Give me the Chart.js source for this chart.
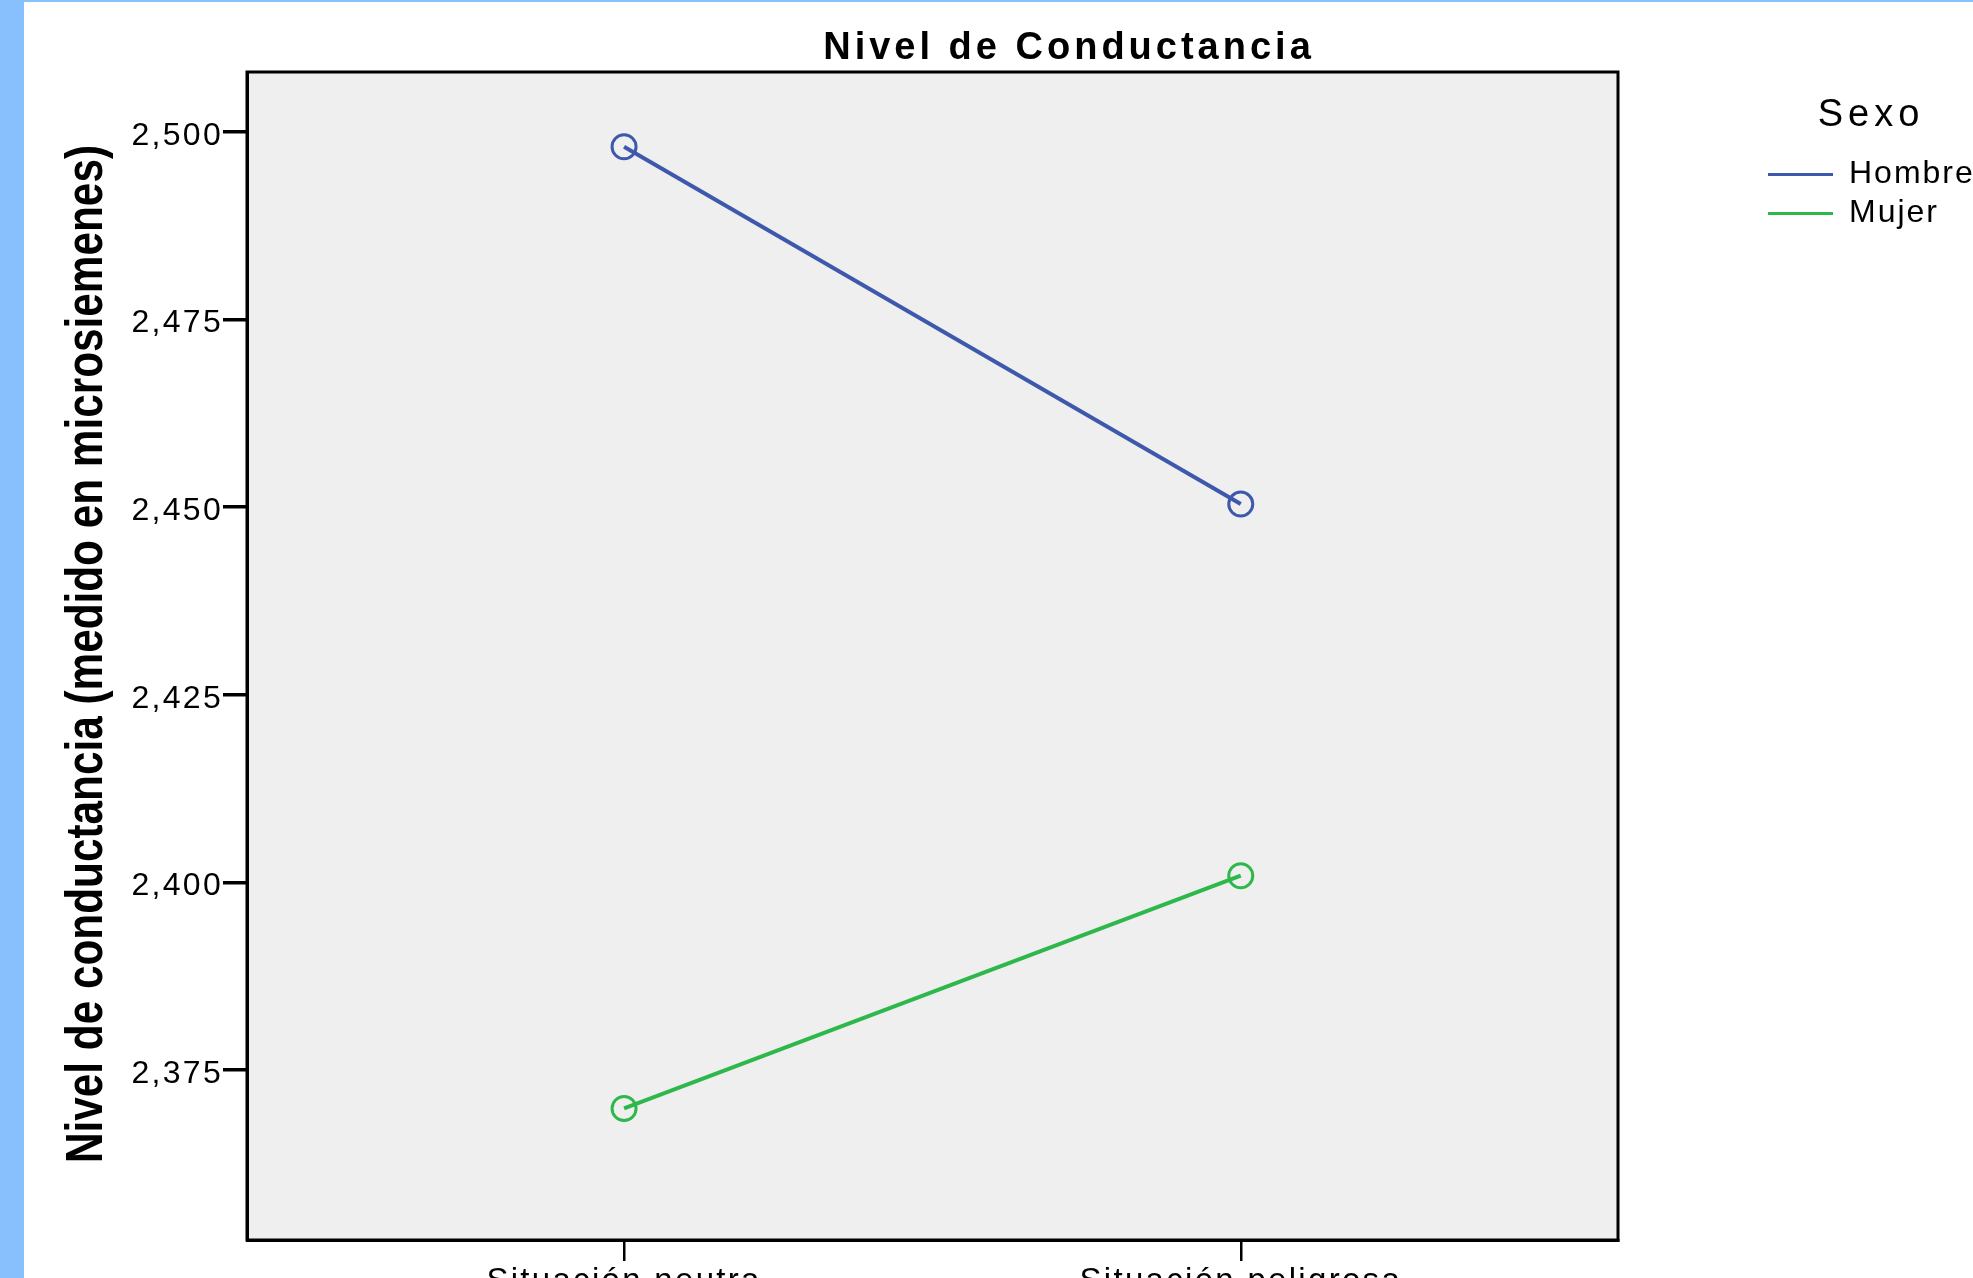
<!DOCTYPE html>
<html><head><meta charset="utf-8">
<script src="https://cdn.jsdelivr.net/npm/chart.js@4.4.1/dist/chart.umd.min.js"></script>
<style>
html,body{margin:0;padding:0;width:1973px;height:1278px;overflow:hidden;background:#fff;position:relative}
#wrap{position:absolute;left:0;top:0;width:2020px;height:1400px}
#bar{position:absolute;left:0;top:0;width:24px;height:1278px;background:#87c0fd}
#topline{position:absolute;left:0;top:0;width:1973px;height:2px;background:#87c0fd}
</style></head><body>
<div id="wrap"><canvas id="c" width="2020" height="1400" style="width:2020px;height:1400px"></canvas></div>
<div id="bar"></div><div id="topline"></div>
<script>
const categories = ['Situación neutra', 'Situación peligrosa'];
const seriesNames = ['Hombre', 'Mujer'];
const hombre = [2.498, 2.4504];
const mujer = [2.3699, 2.4009];
const yTickValues = [2.375, 2.400, 2.425, 2.450, 2.475, 2.500];
const yTickLabels = ['2,375', '2,400', '2,425', '2,450', '2,475', '2,500'];
const xTickValues = [0, 1];
const chartTitle = 'Nivel de Conductancia';
const yTitle = 'Nivel de conductancia (medido en microsiemenes)';
const legendTitle = 'Sexo';

const FONT = '"Liberation Sans", Arial, sans-serif';
const BLUE = '#3e58ac';
const GREEN = '#2eb84b';
const Y_TITLE_FONT = { size: 52, weight: 'bold', family: FONT };
const Y_TITLE_LEN = 1018;

function refreshFont(ctx) {
  const f = ctx.font;
  ctx.font = '10px serif';
  ctx.font = f;
}

function wrap(obj, method, before) {
  const orig = obj[method];
  obj[method] = function (...args) {
    const ctx = this.ctx;
    ctx.save();
    before.call(this, ctx);
    refreshFont(ctx);
    try { return orig.apply(this, args); }
    finally { ctx.restore(); refreshFont(ctx); }
  };
}
const spacing = (ls) => function (ctx) { ctx.letterSpacing = ls; };

const framePlugin = {
  id: 'frame',
  beforeDraw(chart) {
    const { ctx, chartArea: a } = chart;
    ctx.save();
    ctx.fillStyle = '#efefef';
    ctx.fillRect(a.left, a.top, a.right - a.left, a.bottom - a.top);
    ctx.restore();
  },
  afterDatasetsDraw(chart) {
    const { ctx, chartArea: a } = chart;
    ctx.save();
    ctx.strokeStyle = '#000';
    ctx.lineWidth = 3;
    ctx.strokeRect(a.left, a.top, a.right - a.left, a.bottom - a.top);
    ctx.restore();
  },
  afterLayout(chart) {
    const lg = chart.legend;
    lg.left = 1761; lg.width = 220; lg.right = lg.left + lg.width;
    lg.top = 97; lg.height = 300; lg.bottom = lg.top + lg.height;
    const tb = chart.titleBlock;
    const cx = 1069;
    tb.left = cx - 600; tb.right = cx + 600; tb.width = 1200;
    if (!chart.$wrapped) {
      chart.$wrapped = true;
      const ys = chart.scales.y, xs = chart.scales.x;
      wrap(ys, 'drawLabels', function (ctx) { ctx.letterSpacing = '2.3px'; ctx.translate(0, 4); });
      wrap(xs, 'drawLabels', spacing('2.3px'));
      wrap(ys, 'drawTitle', function (ctx) {
        ctx.letterSpacing = '0px';
        const f = Chart.helpers.toFont(Y_TITLE_FONT);
        ctx.font = f.string;
        const w = ctx.measureText(yTitle).width;
        const k = Y_TITLE_LEN / w;
        const cy = (this.top + this.bottom) / 2 - 2;
        ctx.translate(0, cy);
        ctx.scale(1, k);
        ctx.translate(0, -(this.top + this.bottom) / 2);
      });
      wrap(lg, 'draw', spacing('2px'));
      wrap(lg, 'drawTitle', spacing('5px'));
      wrap(tb, 'draw', spacing('4px'));
    }
  }
};

new Chart(document.getElementById('c'), {
  type: 'line',
  data: {
    datasets: [
      { label: seriesNames[0], data: hombre.map((v, i) => ({ x: xTickValues[i], y: v })),
        borderColor: BLUE, borderWidth: 4, pointRadius: 12, pointBorderWidth: 3,
        pointBorderColor: BLUE, pointBackgroundColor: 'rgba(0,0,0,0)', fill: false, tension: 0 },
      { label: seriesNames[1], data: mujer.map((v, i) => ({ x: xTickValues[i], y: v })),
        borderColor: GREEN, borderWidth: 4, pointRadius: 12, pointBorderWidth: 3,
        pointBorderColor: GREEN, pointBackgroundColor: 'rgba(0,0,0,0)', fill: false, tension: 0 }
    ]
  },
  options: {
    responsive: false,
    devicePixelRatio: 1,
    animation: false,
    layout: { padding: { left: 0, top: 0, right: 402, bottom: 100 } },
    plugins: {
      tooltip: { enabled: false },
      title: {
        display: true, text: chartTitle, color: '#000',
        font: { size: 38, weight: 'bold', family: FONT },
        padding: { top: 25.7, bottom: 0.7 }
      },
      legend: {
        display: true, position: 'chartArea', align: 'start',
        title: { display: true, text: legendTitle, color: '#000', font: { size: 38, family: FONT }, padding: { top: 0, bottom: 9 } },
        labels: {
          color: '#000', font: { size: 32, family: FONT },
          boxWidth: 65, boxHeight: 3, padding: 7,
          generateLabels: (chart) => chart.data.datasets.map((ds, i) => ({
            text: ds.label, fillStyle: ds.borderColor, strokeStyle: ds.borderColor,
            lineWidth: 0, hidden: false, datasetIndex: i, fontColor: '#000'
          }))
        }
      }
    },
    scales: {
      x: {
        type: 'linear', min: -0.6114, max: 1.6117,
        afterBuildTicks: (s) => { s.ticks = xTickValues.map(v => ({ value: v })); },
        ticks: { callback: (v) => categories[xTickValues.indexOf(v)], font: { size: 33, family: FONT }, color: '#000', padding: 1, autoSkip: false, maxRotation: 0 },
        grid: { drawOnChartArea: false, drawTicks: true, tickLength: 21, color: '#000', lineWidth: 2.5 },
        border: { display: true, color: '#000', width: 3 },
        afterFit: (s) => { s.height = 60; }
      },
      y: {
        type: 'linear', min: 2.35238, max: 2.50795,
        afterBuildTicks: (s) => { s.ticks = yTickValues.map(v => ({ value: v })); },
        ticks: { callback: (v) => yTickLabels[yTickValues.findIndex(t => Math.abs(t - v) < 1e-9)], font: { size: 32, family: FONT }, color: '#000', padding: 0 },
        grid: { drawOnChartArea: false, drawTicks: true, tickLength: 24, color: '#000', lineWidth: 3.5 },
        border: { display: true, color: '#000', width: 3 },
        title: { display: true, text: yTitle, color: '#000', font: Y_TITLE_FONT, padding: { top: 56, bottom: 0 } },
        afterFit: (s) => { s.width = 247; }
      }
    }
  },
  plugins: [framePlugin]
});
</script>
</body></html>
